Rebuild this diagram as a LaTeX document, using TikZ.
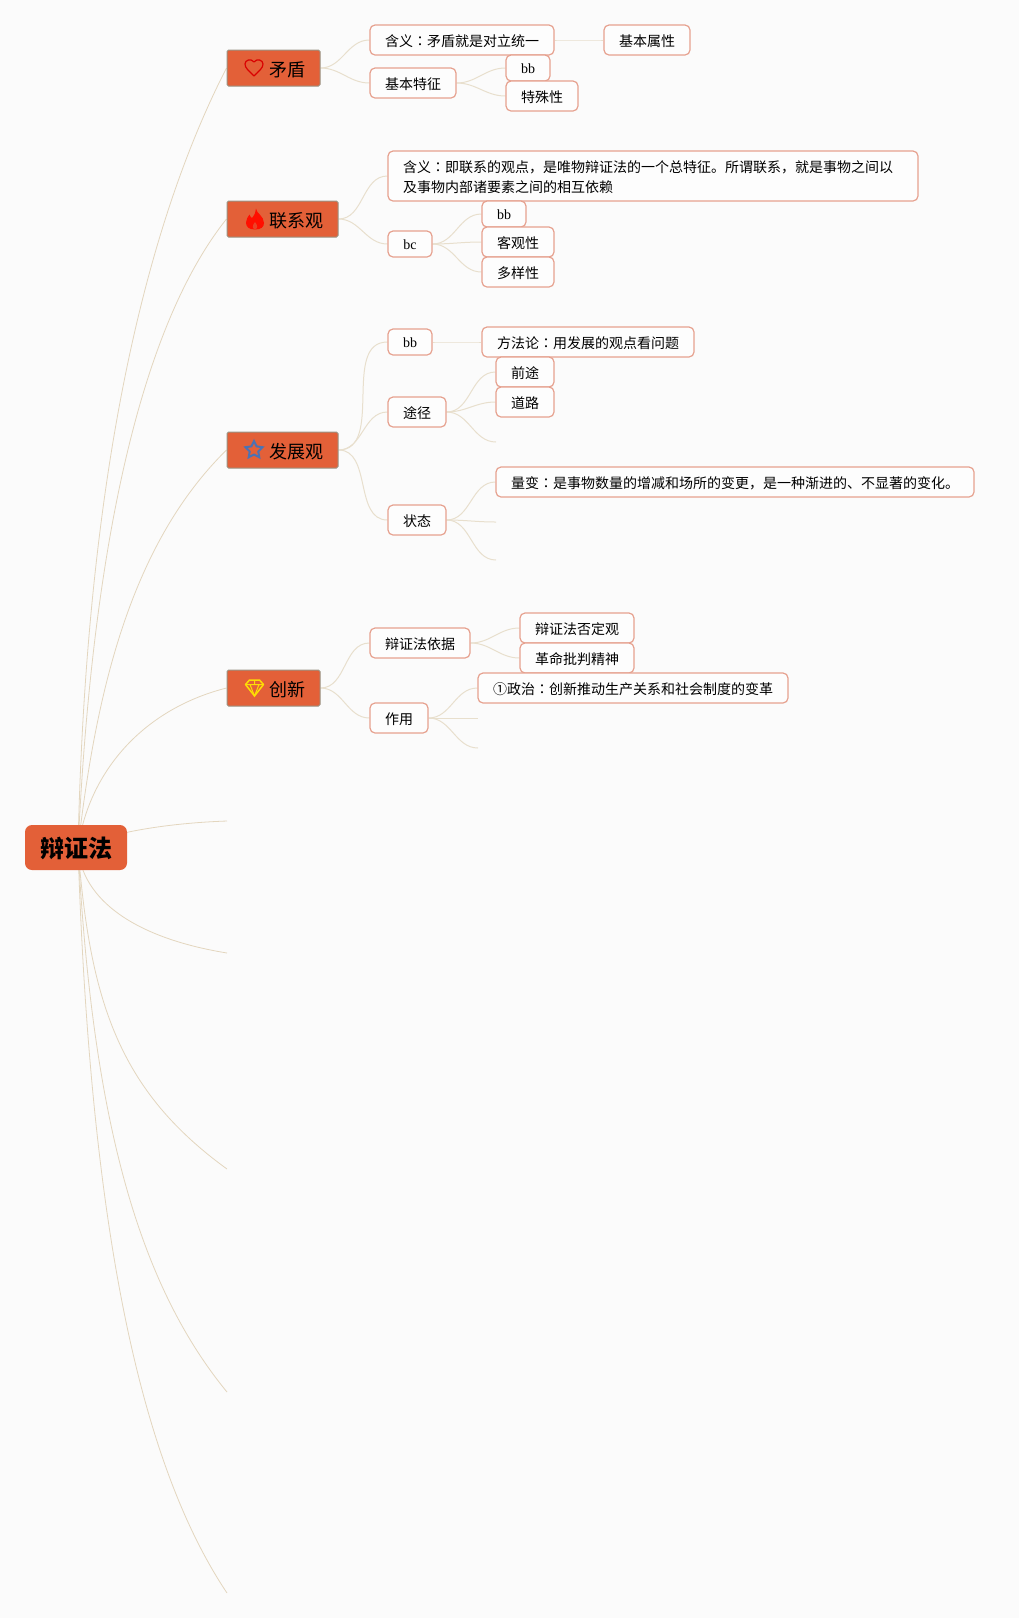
\documentclass[tikz,border=0pt]{standalone}
\usepackage{fontspec}
\setmainfont{Noto Sans CJK SC}
\newfontfamily\latinf{Liberation Serif}
\newfontfamily\tcf{Noto Sans CJK TC}
\newcommand{\cc}{{\tcf ：}}
\newcommand{\dn}[2][1pt]{\raisebox{-#1}[\height][\depth]{#2}}
\usetikzlibrary{backgrounds,shapes.geometric}
\definecolor{pagebg}{HTML}{FBFBFB}
\definecolor{topbg}{HTML}{E36038}
\definecolor{topedge}{HTML}{9A9484}
\definecolor{leafedge}{HTML}{E6A18F}
\definecolor{linkc}{HTML}{E8DFCD}
\definecolor{rootlink}{HTML}{E3D6BE}
\tikzset{
  x=1pt,y=-1pt,
  rootbox/.style={fill=topbg,rounded corners=7pt,minimum width=102pt,minimum height=45pt,inner sep=0pt,font=\fontsize{24pt}{28pt}\selectfont\bfseries},
  topicbox/.style={fill=topbg,draw=topedge,line width=1pt,rounded corners=1.5pt,minimum height=36pt,inner sep=0pt,font=\fontsize{18pt}{22pt}\selectfont},
  leaf/.style={fill=white!60!pagebg,draw=leafedge,line width=1.2pt,rounded corners=5pt,minimum height=30pt,inner sep=0pt,font=\fontsize{14pt}{20pt}\selectfont},
  tiny/.style={leaf,minimum height=26pt,minimum width=44pt},
  link/.style={draw=linkc,line width=1pt},
  rlink/.style={draw=rootlink,line width=.8pt},
}
\begin{document}
\begin{tikzpicture}
\useasboundingbox (0,0) rectangle (1019,1618);
% root
\node[rootbox] (root) at (76,847.5) {\dn{辩证法}};
\coordinate (rootc) at (78,848);
% topics
\node[topicbox,minimum width=93pt] (maodun) at (273.5,68) {\hspace*{27pt}\dn[2pt]{矛盾}};
\node[topicbox,minimum width=111pt] (lianxi) at (282.5,219) {\hspace*{27pt}\dn[2pt]{联系观}};
\node[topicbox,minimum width=111pt] (fazhan) at (282.5,450) {\hspace*{27pt}\dn[2pt]{发展观}};
\node[topicbox,minimum width=93pt] (chuang) at (273.5,688) {\hspace*{27pt}\dn[2pt]{创新}};
% free root ends
\coordinate (r1) at (227,821);
\coordinate (r2) at (227,953);
\coordinate (r3) at (227,1169);
\coordinate (r4) at (227,1392);
\coordinate (r5) at (227,1593);
% maodun
\node[leaf,minimum width=184pt] (m1) at (462,40) {\dn{含义\cc 矛盾就是对立统一}};
\node[leaf,minimum width=86pt] (m2) at (647,40) {\dn{基本属性}};
\node[leaf,minimum width=86pt] (m3) at (413,83) {\dn{基本特征}};
\node[tiny] (m4) at (528,68) {\dn{\latinf bb}};
\node[leaf,minimum width=72pt] (m5) at (542,96) {\dn{特殊性}};
% lianxi
\node[leaf,minimum width=530pt,minimum height=50pt] (l1) at (653,176) {\dn{\parbox[c]{500pt}{\fontsize{14pt}{20pt}\selectfont 含义\cc 即联系的观点，是唯物辩证法的一个总特征。所谓联系，就是事物之间以\\及事物内部诸要素之间的相互依赖}}};
\node[tiny] (l2) at (410,244) {\dn{\latinf bc}};
\node[tiny] (l3) at (504,214) {\dn{\latinf bb}};
\node[leaf,minimum width=72pt] (l4) at (518,242) {\dn{客观性}};
\node[leaf,minimum width=72pt] (l5) at (518,272) {\dn{多样性}};
% fazhan
\node[tiny] (f1) at (410,342) {\dn{\latinf bb}};
\node[leaf,minimum width=212pt] (f2) at (588,342) {\dn{方法论\cc 用发展的观点看问题}};
\node[leaf,minimum width=58pt] (f3) at (417,412) {\dn{途径}};
\node[leaf,minimum width=58pt] (f4) at (525,372) {\dn{前途}};
\node[leaf,minimum width=58pt] (f5) at (525,402) {\dn{道路}};
\node[leaf,minimum width=58pt] (f6) at (417,520) {\dn{状态}};
\node[leaf,minimum width=478pt] (f7) at (735,482) {\dn{量变\cc 是事物数量的增减和场所的变更，是一种渐进的、不显著的变化。}};
\coordinate (fa) at (496,442);
\coordinate (fb) at (496,522);
\coordinate (fc) at (496,560);
% chuang
\node[leaf,minimum width=100pt] (c1) at (420,643) {\dn{辩证法依据}};
\node[leaf,minimum width=58pt] (c2) at (399,718) {\dn{作用}};
\node[leaf,minimum width=114pt] (c3) at (577,628) {\dn{辩证法否定观}};
\node[leaf,minimum width=114pt] (c4) at (577,658) {\dn{革命批判精神}};
\node[leaf,minimum width=310pt] (c5) at (633,688) {\dn{①政治\cc 创新推动生产关系和社会制度的变革}};
\coordinate (ca) at (478,718);
\coordinate (cb) at (478,748);
% icons
\draw[draw=red!85!black,line width=1.2pt,line join=round] (254,76) .. controls (249,71) and (245,68) .. (245,64) .. controls (245,60) and (251,58) .. (254,62) .. controls (257,58) and (263,60) .. (263,64) .. controls (263,68) and (259,71) .. (254,76) -- cycle;
\fill[fill=red!88!orange] (256,208.5) .. controls (256,213) and (264,216) .. (264,223) .. controls (264,227) and (261,229.5) .. (255,229.5) .. controls (249,229.5) and (246,227) .. (246,222.5) .. controls (246,219) and (248,217) .. (249.5,214.5) .. controls (250,216) and (251,217.5) .. (252,218) .. controls (254.5,215) and (256,212) .. (256,208.5) -- cycle;
\fill[fill=topbg!70!red] (255,229.5) .. controls (252,228) and (252,226) .. (255,222) .. controls (258,226) and (258,228) .. (255,229.5) -- cycle;
\node[star,star points=5,star point ratio=2,draw=blue!30!gray!85!cyan,line width=2pt,minimum size=18pt,inner sep=0pt] (staricon) at (254,450) {};
\draw[draw=yellow!80!orange,line width=1.5pt,line join=round] (249.5,680) -- (259.5,680) -- (263.5,684.5) -- (254.5,696) -- (245.5,684.5) -- cycle;
\draw[draw=yellow!80!orange,line width=1pt] (245.5,684.5) -- (263.5,684.5) (250,684.5) -- (254.5,696) -- (259,684.5) (254.5,680) -- (254.5,684.5);
% connectors
\begin{scope}[on background layer]
\fill[pagebg] (0,0) rectangle (1019,1618);
\draw[rlink] (rootc) .. controls (85,520) and (133,250) .. (maodun.west);
\draw[rlink] (rootc) .. controls (90,590) and (130,340) .. (lianxi.west);
\draw[rlink] (rootc) .. controls (97,680) and (135,540) .. (fazhan.west);
\draw[rlink] (rootc) .. controls (88,775) and (140,710) .. (chuang.west);
\draw[rlink] (rootc) .. controls (110,832) and (170,823) .. (r1);
\draw[rlink] (rootc) .. controls (82,900) and (135,938) .. (r2);
\draw[rlink] (rootc) .. controls (90,1000) and (118,1090) .. (r3);
\draw[rlink] (rootc) .. controls (92,1110) and (135,1280) .. (r4);
\draw[rlink] (rootc) .. controls (90,1220) and (138,1460) .. (r5);
\foreach \a/\b in {maodun/m1,maodun/m3,m1/m2,m3/m4,m3/m5,lianxi/l1,lianxi/l2,l2/l3,l2/l4,l2/l5,fazhan/f1,fazhan/f3,fazhan/f6,f1/f2,f3/f4,f3/f5,f6/f7,chuang/c1,chuang/c2,c1/c3,c1/c4,c2/c5}
  \draw[link] (\a.east) to[out=0,in=180] (\b.west);
\foreach \a/\b in {f3/fa,f6/fb,f6/fc,c2/ca,c2/cb}
  \draw[link] (\a.east) to[out=0,in=180] (\b);
\end{scope}
\end{tikzpicture}
\end{document}
